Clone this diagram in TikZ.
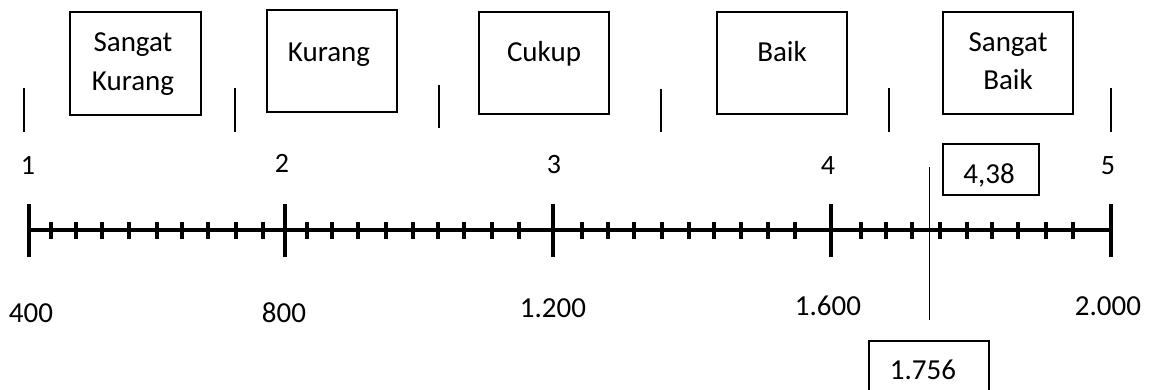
\documentclass[tikz,border=0pt]{standalone}
\usepackage{fontspec}
\setmainfont{Carlito}
\begin{document}
\begin{tikzpicture}[x=1pt,y=-1pt,
  box/.style={draw, line width=1.3pt, rectangle, inner sep=0pt},
  txt/.style={inner sep=0pt, anchor=base, font=\fontsize{29}{35}\selectfont},
  num/.style={inner sep=0pt, anchor=base, font=\fontsize{28}{34}\selectfont},
  big/.style={inner sep=0pt, anchor=base, font=\fontsize{29}{35}\selectfont},
  axis/.style={line width=4.5pt},
  major/.style={line width=4pt},
  minor/.style={line width=4pt},
  bar/.style={line width=2pt},
  thin/.style={line width=1pt}]
\useasboundingbox (0,0) rectangle (1155,390);
\clip (0,0) rectangle (1155,390);
% top category boxes
\node[box, minimum width=131pt, minimum height=103pt] (bSK) at (135.5,63.5) {};
\node[box, minimum width=130pt, minimum height=102pt] (bK) at (332,61) {};
\node[box, minimum width=130pt, minimum height=102pt] (bC) at (544,63) {};
\node[box, minimum width=130pt, minimum height=102pt] (bB) at (782,63) {};
\node[box, minimum width=130pt, minimum height=102pt] (bSB) at (1008,63) {};
\node[txt] (tSK1) at (133,52) {Sangat};
\node[txt] (tSK2) at (133,91) {Kurang};
\node[txt] (tK) at (329,62) {Kurang};
\node[txt] (tC) at (544,62) {Cukup};
\node[txt] (tB) at (782,62) {Baik};
\node[txt] (tSB1) at (1008,52) {Sangat};
\node[txt] (tSB2) at (1008,90) {Baik};
% short separator bars
\coordinate (s1a) at (24,88); \coordinate (s1b) at (24,132);
\coordinate (s2a) at (235,88); \coordinate (s2b) at (235,132);
\coordinate (s3a) at (439,85); \coordinate (s3b) at (439,128);
\coordinate (s4a) at (661,89); \coordinate (s4b) at (661,132);
\coordinate (s5a) at (889,88); \coordinate (s5b) at (889,132);
\coordinate (s6a) at (1111,88); \coordinate (s6b) at (1111,132);
\foreach \i in {1,...,6} \draw[bar] (s\i a) -- (s\i b);
% scale numbers
\node[num] (n1) at (28,175) {1};
\node[num] (n2) at (282,172) {2};
\node[num] (n3) at (554,173) {3};
\node[num] (n4) at (828,175) {4};
\node[num] (n5) at (1108,175) {5};
% axis
\coordinate (axL) at (29,230);
\coordinate (axR) at (1111,230);
\draw[axis] (axL) -- (axR);
\foreach \x in {29,285,553,831,1111}
  \draw[major] (\x,204) -- (\x,257);
\foreach \x in {51,76,102,129,157,182,208,236,263,
                307,332,358,386,413,438,464,492,519,
                582,608,634,662,689,714,741,768,795,
                861,886,912,940,967,992,1018,1046,1073}
  \draw[minor] (\x,222) -- (\x,239);
% axis labels
\node[big] (l400) at (31,322) {400};
\node[big] (l800) at (284,322) {800};
\node[big] (l1200) at (553,317) {1.200};
\node[big] (l1600) at (828,315) {1.600};
\node[big] (l2000) at (1108,315) {2.000};
% result marker
\coordinate (mTop) at (929,167);
\coordinate (mBot) at (929,320);
\draw[thin] (mTop) -- (mBot);
\node[box, minimum width=96pt, minimum height=51pt] (v438) at (991,169.5) {};
\node[big] (t438) at (989,183) {4,38};
\node[box, minimum width=120pt, minimum height=60pt] (v1756) at (929,371) {};
\node[big] (t1756) at (923,379) {1.756};
\end{tikzpicture}
\end{document}
